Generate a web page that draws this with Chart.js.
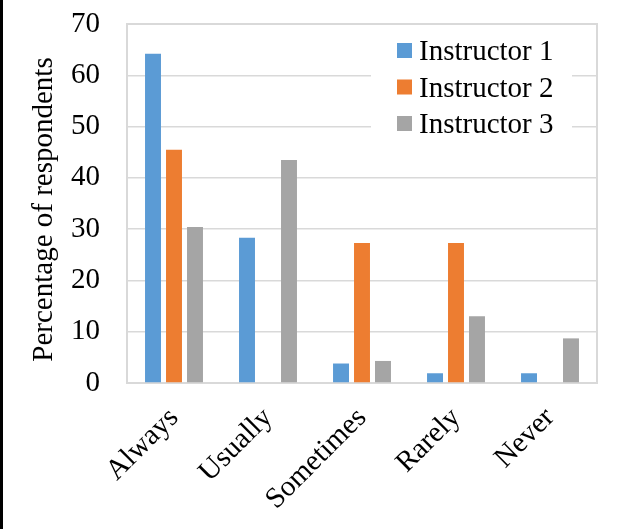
<!DOCTYPE html>
<html><head><meta charset="utf-8">
<script src="https://cdn.jsdelivr.net/npm/chart.js@4"></script>
<style>html,body{margin:0;padding:0;background:#fff}#wrap{width:618px;height:529px;position:relative}</style>
</head><body><div id="wrap"><canvas id="c" width="618" height="529"></canvas></div>
<script>
const categories = ["Always", "Usually", "Sometimes", "Rarely", "Never"];
const instructor1 = [64.2, 28.3, 3.8, 1.9, 1.9];
const instructor2 = [45.5, 0, 27.3, 27.3, 0];
const instructor3 = [30.4, 43.5, 4.3, 13.0, 8.7];
const seriesNames = ["Instructor 1", "Instructor 2", "Instructor 3"];
const seriesColors = ["#5b9bd5", "#ed7d31", "#a5a5a5"];
const yTitle = "Percentage of respondents";

const FONT = "'Liberation Serif', 'Times New Roman', serif";

const framePlugin = {
  id: 'frame',
  beforeDraw(chart) {
    const ctx = chart.ctx;
    ctx.save();
    ctx.fillStyle = '#fff';
    ctx.fillRect(0, 0, chart.width, chart.height);
    ctx.fillStyle = '#000';
    ctx.fillRect(0, 0, 3, chart.height);
    ctx.restore();
  },
  beforeDatasetsDraw(chart) {
    const ctx = chart.ctx, a = chart.chartArea;
    ctx.save();
    ctx.fillStyle = '#fff';
    ctx.fillRect(371, 30, 201, 112);
    ctx.strokeStyle = '#d9d9d9';
    ctx.lineWidth = 2;
    ctx.strokeRect(a.left, a.top, a.right - a.left, a.bottom - a.top);
    ctx.restore();
  },
  afterDraw(chart) {
    const ctx = chart.ctx;
    ctx.save();
    ctx.font = "29px " + FONT;
    ctx.textBaseline = 'alphabetic';
    ctx.textAlign = 'left';
    for (let i = 0; i < seriesNames.length; i++) {
      const y = 43 + i * 36.5;
      ctx.fillStyle = seriesColors[i];
      ctx.fillRect(397, y, 15, 15);
      ctx.fillStyle = '#000';
      ctx.fillText(seriesNames[i], 419, y + 17);
    }
    // y axis title
    ctx.translate(44.4, 209.5);
    ctx.rotate(-Math.PI / 2);
    ctx.textAlign = 'center';
    ctx.textBaseline = 'middle';
    ctx.fillText(yTitle, 0, 0);
    ctx.restore();
  }
};

new Chart(document.getElementById('c'), {
  type: 'bar',
  data: {
    labels: categories,
    datasets: [
      { label: seriesNames[0], data: instructor1, backgroundColor: seriesColors[0] },
      { label: seriesNames[1], data: instructor2, backgroundColor: seriesColors[1] },
      { label: seriesNames[2], data: instructor3, backgroundColor: seriesColors[2] }
    ]
  },
  options: {
    responsive: false,
    animation: false,
    devicePixelRatio: 1,
    categoryPercentage: 0.67,
    barPercentage: 0.76,
    layout: { padding: { left: 0, top: 24, right: 21, bottom: 0 } },
    plugins: { legend: { display: false }, tooltip: { enabled: false } },
    scales: {
      x: {
        grid: { display: false, drawTicks: false },
        border: { display: false },
        ticks: {
          color: '#000', font: { family: FONT, size: 29 },
          maxRotation: 45, minRotation: 45, padding: 18, autoSkip: false
        },
        afterFit(s) { s.height = 146; s.paddingLeft = 0; s.paddingRight = 0; }
      },
      y: {
        min: 0, max: 70,
        grid: { color: '#d9d9d9', lineWidth: 1.5, drawTicks: false },
        border: { display: false },
        ticks: { stepSize: 10, color: '#000', font: { family: FONT, size: 29 }, padding: 27 },
        afterFit(s) { s.width = 127; s.paddingTop = 0; s.paddingBottom = 0; }
      }
    }
  },
  plugins: [framePlugin]
});
</script>
</body></html>
